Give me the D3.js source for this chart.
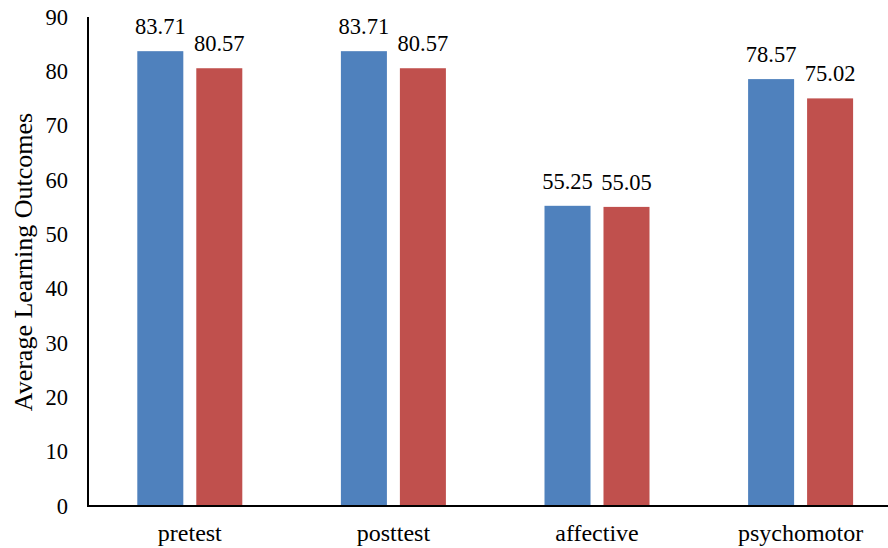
<!DOCTYPE html>
<html><head><meta charset="utf-8">
<script src="https://cdn.jsdelivr.net/npm/d3@7"></script>
<style>html,body{margin:0;padding:0;background:#fff;}svg{display:block;}</style>
</head><body>
<svg id="chart" width="888" height="548"></svg>
<script>
const categories = ["pretest", "posttest", "affective", "psychomotor"];
const seriesNames = ["Series A", "Series B"];
const seriesA = [83.71, 83.71, 55.25, 78.57];
const seriesB = [80.57, 80.57, 55.05, 75.02];
const yTicks = [0, 10, 20, 30, 40, 50, 60, 70, 80, 90];
const colors = ["#4F81BD", "#C0504D"];
const yTitle = "Average Learning Outcomes";

const svg = d3.select("#chart");
const font = "'Liberation Serif', 'Times New Roman', serif";
const plotLeft = 88, plotBottom = 506, plotTop = 17, step = 203.6;

const x0 = d3.scaleBand().domain(categories).range([plotLeft, plotLeft + step * categories.length]).padding(0);
const groupW = 105;
const x1 = d3.scaleBand().domain(seriesNames).range([0, groupW]).paddingInner(0.22).paddingOuter(0);
const y = d3.scaleLinear().domain([0, 90]).range([plotBottom, plotTop]);

const data = categories.map((c, i) => ({cat: c, vals: [seriesA[i], seriesB[i]]}));

const groups = svg.append("g").selectAll("g").data(data).join("g")
  .attr("transform", d => `translate(${x0(d.cat) + (x0.bandwidth() - groupW) / 2},0)`);

groups.selectAll("rect").data(d => d.vals.map((v, j) => ({v, s: seriesNames[j], j})))
  .join("rect")
  .attr("x", d => x1(d.s))
  .attr("width", x1.bandwidth())
  .attr("y", d => y(d.v))
  .attr("height", d => y(0) - y(d.v))
  .attr("fill", d => colors[d.j]);

groups.selectAll("text").data(d => d.vals.map((v, j) => ({v, s: seriesNames[j], j})))
  .join("text")
  .attr("x", d => x1(d.s) + x1.bandwidth() / 2)
  .attr("y", d => y(d.v) - 17)
  .attr("text-anchor", "middle")
  .style("font-family", font).style("font-size", "22.5px").attr("fill", "#000")
  .text(d => d.v.toFixed(2));

// Y axis
const yAxis = d3.axisLeft(y).tickValues(yTicks).tickSize(0).tickPadding(20);
const ya = svg.append("g").attr("transform", `translate(${plotLeft},0)`).call(yAxis);
ya.select(".domain").attr("stroke", "#000").attr("stroke-width", 2).attr("d", `M0,${plotTop}V${plotBottom}`);
ya.selectAll("text").style("font-family", font).style("font-size", "22.5px").attr("fill", "#000");

// X axis
const xAxis = d3.axisBottom(x0).tickSize(0).tickPadding(18);
const xa = svg.append("g").attr("transform", `translate(0,${plotBottom})`).call(xAxis);
xa.select(".domain").attr("stroke", "#000").attr("stroke-width", 2).attr("d", `M${plotLeft - 1},0H888`);
xa.selectAll("text").style("font-family", font).style("font-size", "24px").attr("fill", "#000");

svg.append("text")
  .attr("transform", `translate(32,262) rotate(-90)`)
  .attr("text-anchor", "middle")
  .style("font-family", font).style("font-size", "26px").attr("fill", "#000")
  .text(yTitle);
</script>
</body></html>
